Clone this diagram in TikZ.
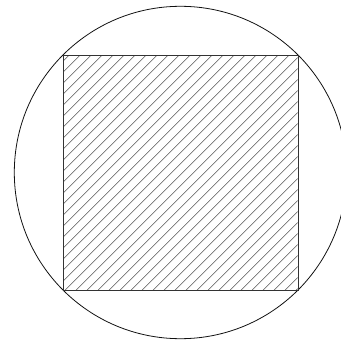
\documentclass[tikz,border=0pt]{standalone}
\usepackage{tikz}
\definecolor{outline}{HTML}{111111}
\definecolor{edge}{HTML}{333333}
\definecolor{hatch}{HTML}{555555}
\tikzset{
  ring/.style={draw=outline, line width=0.8pt},
  squareedge/.style={draw=edge, line width=0.8pt},
  hatchline/.style={draw=hatch, line width=0.6pt}
}
\begin{document}
\begin{tikzpicture}[x=1pt,y=1pt]
  \useasboundingbox (0,0) rectangle (341,341);
  \begin{scope}
    \clip (0,0) rectangle (341,341);
    \draw[ring] (180.5,168.5) circle[radius=166.2];
  \end{scope}
  % hatching inside the square
  \begin{scope}
    \clip (63.4,51.4) rectangle (297.6,285.6);
    \foreach \c in {0,...,42} {
      \draw[hatchline] (0,{216.7-11*\c}) -- ++(341,341);
    }
  \end{scope}
  \draw[squareedge] (63,51) rectangle (298,286);
\end{tikzpicture}
\end{document}
